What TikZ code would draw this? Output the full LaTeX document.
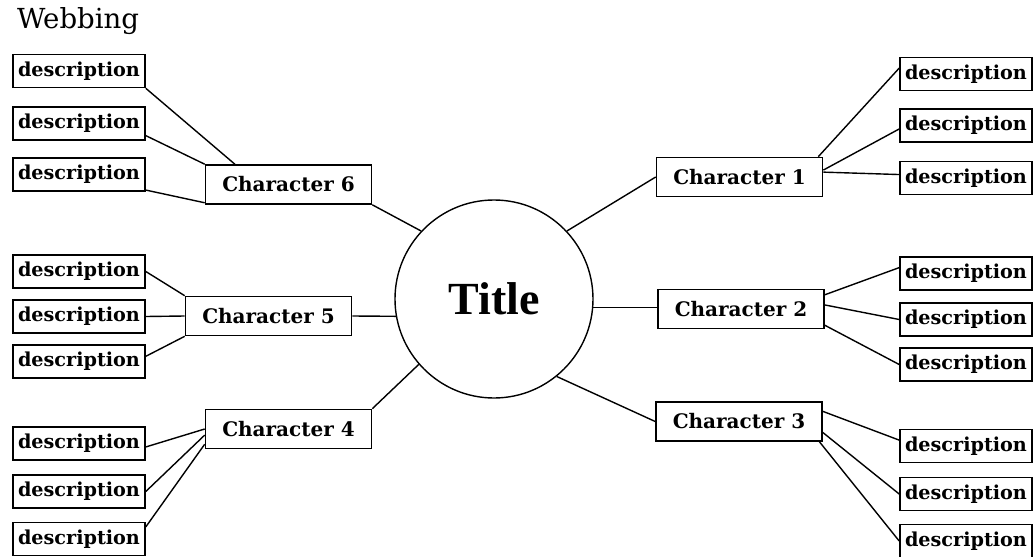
\documentclass[tikz,border=0pt]{standalone}
\usepackage{fontspec}
\newfontfamily\titlefont{Liberation Serif}
\newfontfamily\boxfont{DejaVu Serif}
\usetikzlibrary{calc}
\tikzset{
  desc/.style={draw,line width=0.8pt,fill=white,minimum width=66pt,minimum height=16.5pt,inner sep=1pt,font=\boxfont\fontsize{9.6}{12}\selectfont\bfseries},
  chr/.style={draw,line width=0.8pt,fill=white,minimum width=83pt,minimum height=19.5pt,inner sep=1pt,font=\boxfont\fontsize{10}{12}\selectfont\bfseries},
  hub/.style={circle,draw,line width=0.7pt,minimum size=99pt,inner sep=0pt,font=\titlefont\fontsize{23}{26}\selectfont\bfseries},
  link/.style={line width=0.7pt},
}
\begin{document}
\begin{tikzpicture}[x=0.5pt,y=-0.5pt]
  \useasboundingbox (0,0) rectangle (1034,557);
  \node[anchor=base west,font=\boxfont\fontsize{13.8}{16}\selectfont] (head) at (10,28) {Webbing};
  % centre
  \node[hub] (title) at (494,299) {\raisebox{-2pt}{Title}};
  % characters
  \node[chr] (c6) at (288.5,184.5) {Character 6};
  \node[chr] (c5) at (268.5,316) {Character 5};
  \node[chr] (c4) at (288.5,429) {Character 4};
  \node[chr] (c1) at (739.5,177) {Character 1};
  \node[chr] (c2) at (741,309) {Character 2};
  \node[chr] (c3) at (739,421.5) {Character 3};
  % descriptions
  \foreach \y [count=\i] in {71,123.5,174.5} { \node[desc] (d6\i) at (79,\y) {description}; }
  \foreach \y [count=\i] in {271.5,316.5,361.5} { \node[desc] (d5\i) at (79,\y) {description}; }
  \foreach \y [count=\i] in {443.5,491.5,539} { \node[desc] (d4\i) at (79,\y) {description}; }
  \foreach \y [count=\i] in {74,125.5,178} { \node[desc] (d1\i) at (966,\y) {description}; }
  \foreach \y [count=\i] in {273.5,319.5,364.5} { \node[desc] (d2\i) at (966,\y) {description}; }
  \foreach \y [count=\i] in {446,494,541} { \node[desc] (d3\i) at (966,\y) {description}; }
  % spokes
  \draw[link] (c6.south east) -- (title.137);
  \draw[link] (c5.east) -- (title.190);
  \draw[link] (c4.north east) -- (title.221);
  \draw[link] (c1.west) -- (title.43);
  \draw[link] (title.-5) -- (title.-5 -| c2.west);
  \draw[link] (title.-51) -- (c3.west);
  % left branches
  \draw[link] (d61.south east) -- ($(c6.north west)!.18!(c6.north east)$);
  \draw[link] ($(d62.north east)!.85!(d62.south east)$) -- (c6.north west);
  \draw[link] ($(d63.north east)!.95!(d63.south east)$) -- ($(c6.north west)!.95!(c6.south west)$);
  \draw[link] (d51.east) -- (c5.north west);
  \draw[link] (d52.east) -- (c5.west);
  \draw[link] ($(d53.north east)!.35!(d53.south east)$) -- (c5.south west);
  \draw[link] ($(d41.north east)!.6!(d41.south east)$) -- (c4.west);
  \draw[link] (d42.east) -- ($(c4.west)!.3!(c4.south west)$);
  \draw[link] ($(d43.north east)!.15!(d43.south east)$) -- ($(c4.west)!.75!(c4.south west)$);
  % right branches
  \draw[link] ($(c1.north west)!.97!(c1.north east)$) -- ($(d11.north west)!.33!(d11.south west)$);
  \draw[link] ($(c1.north east)!.33!(c1.south east)$) -- ($(d12.north west)!.6!(d12.south west)$);
  \draw[link] ($(c1.north east)!.38!(c1.south east)$) -- ($(d13.north west)!.4!(d13.south west)$);
  \draw[link] ($(c2.north east)!.15!(c2.south east)$) -- ($(d21.north west)!.33!(d21.south west)$);
  \draw[link] ($(c2.north east)!.4!(c2.south east)$) -- (d22.west);
  \draw[link] ($(c2.north east)!.9!(c2.south east)$) -- (d23.west);
  \draw[link] ($(c3.north east)!.25!(c3.south east)$) -- ($(d31.north west)!.33!(d31.south west)$);
  \draw[link] ($(c3.north east)!.77!(c3.south east)$) -- (d32.west);
  \draw[link] ($(c3.south west)!.98!(c3.south east)$) -- (d33.west);
\end{tikzpicture}
\end{document}
